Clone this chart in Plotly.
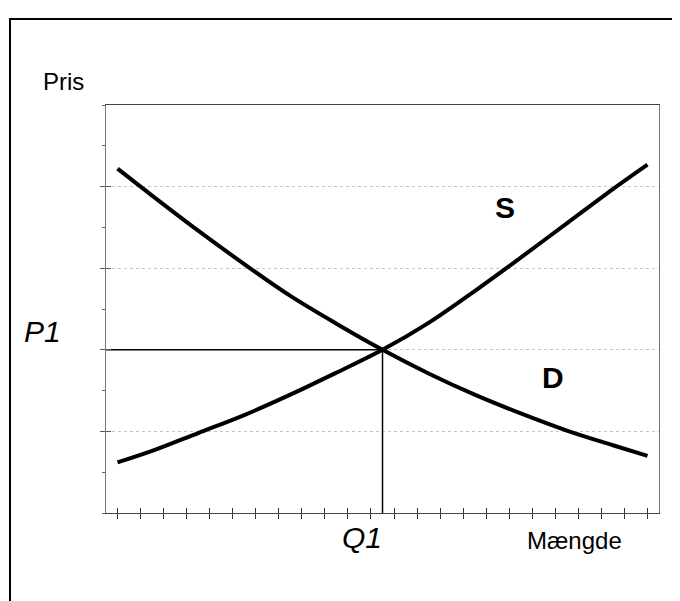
import plotly.graph_objects as go

# quantity grid and the two curves
qty = [0.5, 2, 4, 6, 8, 10, 12, 14, 16, 18, 20, 22, 23.5]
demand = [4.22, 3.89, 3.46, 3.05, 2.66, 2.32, 2.0, 1.71, 1.45, 1.22, 1.01, 0.83, 0.70]
supply = [0.62, 0.76, 0.98, 1.20, 1.45, 1.72, 2.0, 2.33, 2.72, 3.13, 3.55, 3.97, 4.27]

# equilibrium
q1 = 12
p1 = 2

x_ticks = [i + 0.5 for i in range(24)]
y_major = [1, 2, 3, 4]

fig = go.Figure()

fig.add_trace(go.Scatter(x=qty, y=demand, mode="lines", line=dict(color="black", width=4, shape="spline"),
                         name="D", hoverinfo="skip"))
fig.add_trace(go.Scatter(x=qty, y=supply, mode="lines", line=dict(color="black", width=4, shape="spline"),
                         name="S", hoverinfo="skip"))
# equilibrium guide lines
fig.add_trace(go.Scatter(x=[0, q1], y=[p1, p1], mode="lines", line=dict(color="black", width=1.5),
                         hoverinfo="skip"))
fig.add_trace(go.Scatter(x=[q1, q1], y=[0, p1], mode="lines", line=dict(color="black", width=1.5),
                         hoverinfo="skip"))
# empty trace so the overlay axes (inner half of the crossing ticks) get drawn
fig.add_trace(go.Scatter(x=[], y=[], xaxis="x2", yaxis="y2", hoverinfo="skip"))

fig.update_xaxes(range=[0, 24], showgrid=False, zeroline=False,
                 showline=True, linecolor="#444", linewidth=1, mirror=True,
                 tickvals=x_ticks, ticks="outside", ticklen=5, tickcolor="#333",
                 showticklabels=False)
fig.update_yaxes(range=[0, 5], zeroline=False,
                 showline=True, linecolor="#777", linewidth=1, mirror=True,
                 tickvals=y_major, ticks="outside", ticklen=5, tickcolor="#555",
                 showticklabels=False,
                 showgrid=True, gridcolor="#c4c4c4", griddash="dot", gridwidth=1,
                 minor=dict(dtick=0.5, tick0=0, ticks="outside", ticklen=3, tickcolor="#666", showgrid=False))

font = "Liberation Sans, Arial, sans-serif"
ann = [
    dict(text="Pris", xref="paper", yref="paper", x=-0.076, y=1.058, font=dict(size=24)),
    dict(text="<i>P1</i>", xref="paper", yref="y", x=-0.115, y=p1 + 0.22, font=dict(size=30)),
    dict(text="<i>Q1</i>", xref="x", yref="paper", x=q1 - 0.9, y=-0.06, font=dict(size=30)),
    dict(text="Mængde", xref="paper", yref="paper", x=0.848, y=-0.068, font=dict(size=24)),
    dict(text="<b>S</b>", xref="x", yref="y", x=17.3, y=3.75, font=dict(size=30)),
    dict(text="<b>D</b>", xref="x", yref="y", x=19.4, y=1.66, font=dict(size=30)),
]
for a in ann:
    a["font"]["family"] = font
    a["font"]["color"] = "black"
    fig.add_annotation(showarrow=False, xanchor="center", yanchor="middle", **a)

# scanned page frame
fig.add_shape(type="rect", xref="paper", yref="paper", x0=-0.1736, y0=-0.4, x1=1.2, y1=1.2108,
              line=dict(color="black", width=2), layer="below")

# the page body adds 8px, margins compensate
fig.update_layout(width=680, height=601, showlegend=False,
                  margin=dict(l=98, r=29, t=97, b=96),
                  paper_bgcolor="white", plot_bgcolor="white",
                  font=dict(family=font, color="black"),
                  xaxis2=dict(overlaying="x", anchor="y2", side="bottom", range=[0, 24],
                              tickvals=x_ticks, ticks="inside", ticklen=5, tickcolor="#333",
                              showticklabels=False, showgrid=False, zeroline=False, showline=False),
                  yaxis2=dict(overlaying="y", anchor="x2", side="left", range=[0, 5],
                              tickvals=y_major, ticks="inside", ticklen=5, tickcolor="#555",
                              showticklabels=False, showgrid=False, zeroline=False, showline=False))

fig.write_html("out.html", config={"displayModeBar": False})
